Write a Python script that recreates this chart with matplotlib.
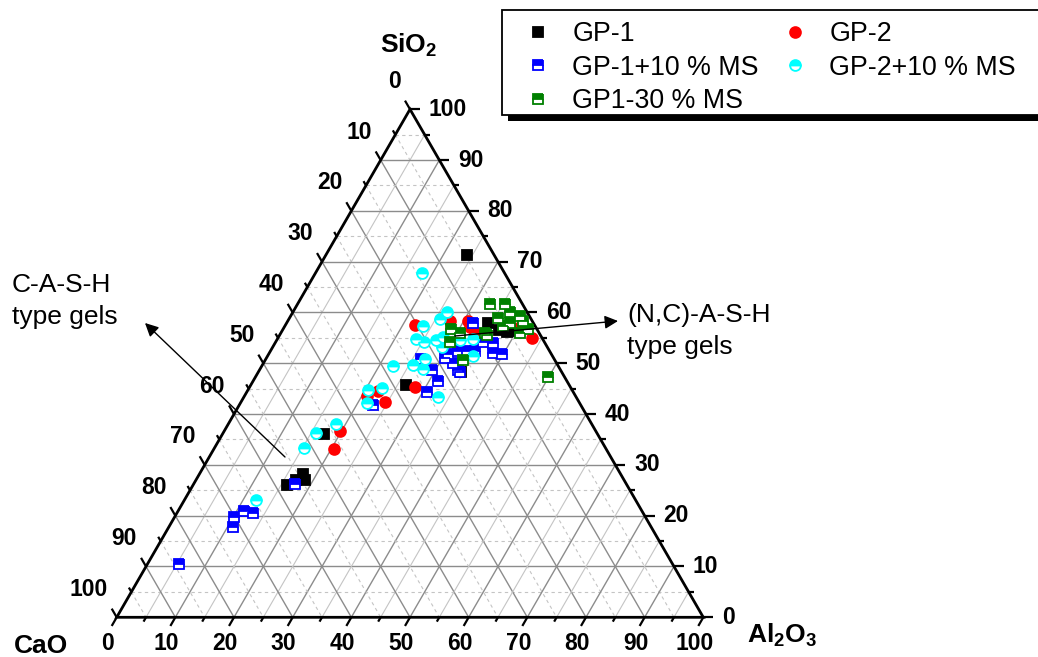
import numpy as np
import matplotlib
matplotlib.use('Agg')
import matplotlib.pyplot as plt
from matplotlib.patches import Rectangle, Polygon

# ---- compositions (wt.%) : CaO, SiO2, Al2O3 ----
gp1_sio2 = [71.4, 57.9, 56.5, 56.1, 56.4, 45.8, 48.2, 36.1, 26.0, 27.0, 28.2, 27.0]
gp1_al2o3 = [24.0, 34.4, 37.0, 38.5, 39.2, 26.5, 34.6, 17.3, 16.0, 17.1, 17.7, 18.6]
gp1_cao = [4.6, 7.7, 6.5, 5.4, 4.4, 27.7, 17.2, 46.6, 58.0, 55.9, 54.1, 54.4]

gp2_sio2 = [57.6, 58.4, 58.4, 57.2, 56.2, 54.9, 57.2, 45.4, 42.3, 43.5, 44.5, 36.6, 33.1]
gp2_al2o3 = [22.1, 27.7, 30.7, 31.6, 33.0, 43.4, 40.2, 28.2, 24.6, 21.0, 22.3, 19.8, 20.5]
gp2_cao = [20.3, 13.9, 10.9, 11.2, 10.8, 1.7, 2.6, 26.4, 33.1, 35.5, 33.2, 43.6, 46.4]

gp1ms10_sio2 = [50.9, 48.6, 46.6, 44.3, 51.9, 51.1, 50.0, 48.6, 41.7, 52.5, 52.5, 52.5,
                54.1, 53.9, 52.1, 51.9, 48.2, 58.0, 26.2, 19.7, 17.7, 20.9, 20.5, 10.5]
gp1ms10_al2o3 = [26.5, 29.4, 31.5, 30.7, 30.5, 30.4, 32.3, 33.9, 22.8, 31.9, 33.5, 34.8,
                 35.4, 37.2, 38.1, 39.7, 34.4, 31.7, 17.3, 10.1, 10.9, 11.3, 13.0, 5.4]
gp1ms10_cao = [22.6, 22.0, 21.9, 25.0, 17.6, 18.5, 17.7, 17.5, 35.5, 15.6, 14.0, 12.7,
               10.5, 8.9, 9.8, 8.4, 17.4, 10.3, 56.5, 70.2, 71.4, 67.8, 66.5, 84.1]

gp2ms10_sio2 = [67.7, 60.1, 58.7, 57.3, 54.8, 54.1, 54.5, 55.2, 53.3, 54.5, 54.7, 51.5,
                50.9, 49.4, 49.6, 48.9, 45.2, 44.7, 42.1, 43.3, 38.1, 36.2, 33.3, 23.0]
gp2ms10_al2o3 = [18.2, 26.2, 25.8, 23.6, 23.7, 25.3, 27.2, 28.0, 28.8, 31.3, 33.4, 35.0,
                 27.1, 22.4, 25.7, 27.8, 22.6, 20.5, 21.6, 33.1, 18.4, 15.9, 15.3, 12.2]
gp2ms10_cao = [14.1, 13.7, 15.5, 19.1, 21.5, 20.6, 18.3, 16.8, 17.9, 14.2, 11.9, 13.5,
               22.0, 28.2, 24.7, 23.3, 32.2, 34.8, 36.3, 23.6, 43.5, 47.9, 51.4, 64.8]

gp1ms30_sio2 = [61.7, 61.6, 59.0, 60.0, 59.4, 58.4, 56.8, 58.0, 55.9, 57.4, 55.9, 50.6,
                47.4, 56.8, 55.9, 54.1, 55.5]
gp1ms30_al2o3 = [32.8, 35.4, 35.5, 37.0, 39.1, 40.1, 41.7, 38.0, 40.8, 37.2, 34.8, 33.7,
                 49.8, 28.6, 30.6, 29.8, 35.4]
gp1ms30_cao = [5.5, 3.0, 5.5, 3.0, 1.5, 1.5, 1.5, 4.0, 3.3, 5.4, 9.3, 15.7,
               2.8, 14.6, 13.5, 16.1, 9.1]

tick_values = list(range(0, 101, 10))

plt.rcParams['font.family'] = ['Liberation Sans', 'DejaVu Sans']
plt.rcParams['mathtext.default'] = 'regular'

W, H = 1038, 657
fig = plt.figure(figsize=(W / 100, H / 100), dpi=100)
ax = fig.add_axes([0, 0, 1, 1])
S = 5.866                      # pixels per composition unit
X0, Y0 = 116.7, 617.3          # pixel location of the CaO corner
ax.set_xlim(-X0 / S, (W - X0) / S)
ax.set_ylim(-(H - Y0) / S, Y0 / S)
ax.axis('off')
R3 = np.sqrt(3) / 2


def tern(cao, sio2, al2o3):
    c, s, a = (np.asarray(v, dtype=float) for v in (cao, sio2, al2o3))
    tot = c + s + a
    s = 100 * s / tot
    a = 100 * a / tot
    return a + s / 2, s * R3


def px(x, y):
    return (x - X0) / S, (Y0 - y) / S


# ---- grid ----
major_c, minor_c = '#8c8c8c', '#c4c4c4'
for v in range(5, 100, 5):
    major = v % 10 == 0
    col = major_c if major else minor_c
    lw = 1.0 if major else 0.8
    # SiO2 = const (horizontal)
    x, y = tern([100 - v, 0], [v, v], [0, 100 - v])
    ax.plot(x, y, color=col, lw=lw, ls='-' if major else (0, (3, 3)), zorder=1)
    # Al2O3 = const
    x, y = tern([100 - v, 0], [0, 100 - v], [v, v])
    ax.plot(x, y, color=col, lw=lw, ls='-', zorder=1)
    # CaO = const
    x, y = tern([v, v], [100 - v, 0], [0, 100 - v])
    ax.plot(x, y, color=col, lw=lw, ls='-' if major else (0, (3, 3)), zorder=1)

# ---- frame ----
cx, cy = tern([100, 0, 0], [0, 100, 0], [0, 0, 100])
ax.add_patch(Polygon(np.column_stack([cx, cy]), closed=True, fill=False,
                     ec='black', lw=2.0, zorder=3, joinstyle='miter'))

# ---- ticks and tick labels ----
tick_kw = dict(color='black', lw=1.6, zorder=3, solid_capstyle='butt')
lab_kw = dict(fontsize=16.5, fontweight='bold', zorder=4)
for v in range(0, 101, 5):
    L = (10 if v % 10 == 0 else 5) / S
    # SiO2 (right edge), ticks to the right
    x, y = tern(0, v, 100 - v)
    ax.plot([x, x + L], [y, y], **tick_kw)
    # Al2O3 (bottom edge), ticks down-left
    x, y = tern(100 - v, 0, v)
    ax.plot([x, x - 0.5 * L], [y, y - R3 * L], **tick_kw)
    # CaO (left edge), ticks up-left
    x, y = tern(v, 100 - v, 0)
    ax.plot([x, x - 0.5 * L], [y, y + R3 * L], **tick_kw)

for v in tick_values:
    x, y = tern(0, v, 100 - v)
    ax.text(x + 19 / S, y, str(v), ha='left', va='center', **lab_kw)
    x, y = tern(100 - v, 0, v)
    ax.text(x - 9 / S, y - 26 / S, str(v), ha='center', va='center', **lab_kw)
    x, y = tern(v, 100 - v, 0)
    ax.text(x - 9 / S, y + 28 / S, str(v), ha='right', va='center', **lab_kw)

# ---- axis titles ----
title_kw = dict(fontsize=19, fontweight='bold', zorder=4)
ax.text(*px(409, 53), 'SiO$_2$', ha='center', va='baseline', **title_kw)
ax.text(*px(41, 653), 'CaO', ha='center', va='baseline', **title_kw)
ax.text(*px(747, 643), 'Al$_2$O$_3$', ha='left', va='baseline', **title_kw)

# ---- data ----
ms = 7.8
series = [
    ('GP-1', gp1_cao, gp1_sio2, gp1_al2o3,
     dict(marker='s', color='black', mfc='black', mec='black', fillstyle='full')),
    ('GP-2', gp2_cao, gp2_sio2, gp2_al2o3,
     dict(marker='o', color='red', mfc='red', mec='red', fillstyle='full')),
    ('GP-1+10 % MS', gp1ms10_cao, gp1ms10_sio2, gp1ms10_al2o3,
     dict(marker='s', color='blue', mfc='blue', mec='blue', fillstyle='top', mfcalt='white')),
    ('GP-2+10 % MS', gp2ms10_cao, gp2ms10_sio2, gp2ms10_al2o3,
     dict(marker='o', color='cyan', mfc='cyan', mec='cyan', fillstyle='top', mfcalt='white')),
    ('GP1-30 % MS', gp1ms30_cao, gp1ms30_sio2, gp1ms30_al2o3,
     dict(marker='s', color='green', mfc='green', mec='green', fillstyle='top', mfcalt='white')),
]
handles = {}
for i, (name, c, s, a, st) in enumerate(series):
    x, y = tern(c, s, a)
    h, = ax.plot(x, y, ls='none', ms=ms, mew=1.3, zorder=5 + i, **st)
    handles[name] = h

# ---- annotations ----
arrow_kw = dict(arrowstyle='-|>', color='black', lw=1.0, mutation_scale=20,
                shrinkA=0, shrinkB=0)
ax.annotate('', xy=px(145, 323), xytext=px(285, 457), arrowprops=arrow_kw, zorder=12)
ax.annotate('', xy=px(618, 321), xytext=px(455, 336), arrowprops=arrow_kw, zorder=12)
ann_kw = dict(fontsize=19, ha='left', va='baseline', zorder=12)
ax.text(*px(12, 292), 'C-A-S-H', **ann_kw)
ax.text(*px(12, 324), 'type gels', **ann_kw)
ax.text(*px(627, 322), '(N,C)-A-S-H', **ann_kw)
ax.text(*px(627, 354), 'type gels', **ann_kw)


# ---- legend ----
def fpx(x, y):
    return x / W, 1 - y / H


fig.patches.append(Rectangle(fpx(508, 121), (1060 - 508) / W, (121 - 16) / H,
                             transform=fig.transFigure, fc='black', ec='none', zorder=1))
fig.patches.append(Rectangle(fpx(502, 115), (1060 - 502) / W, (115 - 10) / H,
                             transform=fig.transFigure, fc='white', ec='black', lw=1.3, zorder=2))
order = ['GP-1', 'GP-1+10 % MS', 'GP1-30 % MS', 'GP-2', 'GP-2+10 % MS']
leg = fig.legend([handles[k] for k in order], order, ncol=2, loc='upper left',
                 bbox_to_anchor=fpx(502, 13), bbox_transform=fig.transFigure,
                 frameon=False, fontsize=19.3, borderpad=0.3, borderaxespad=0,
                 handlelength=2.05, handletextpad=0.28, labelspacing=0.28,
                 columnspacing=0.3, numpoints=1)
leg.set_zorder(10)

fig.savefig('out.png', dpi=100)
